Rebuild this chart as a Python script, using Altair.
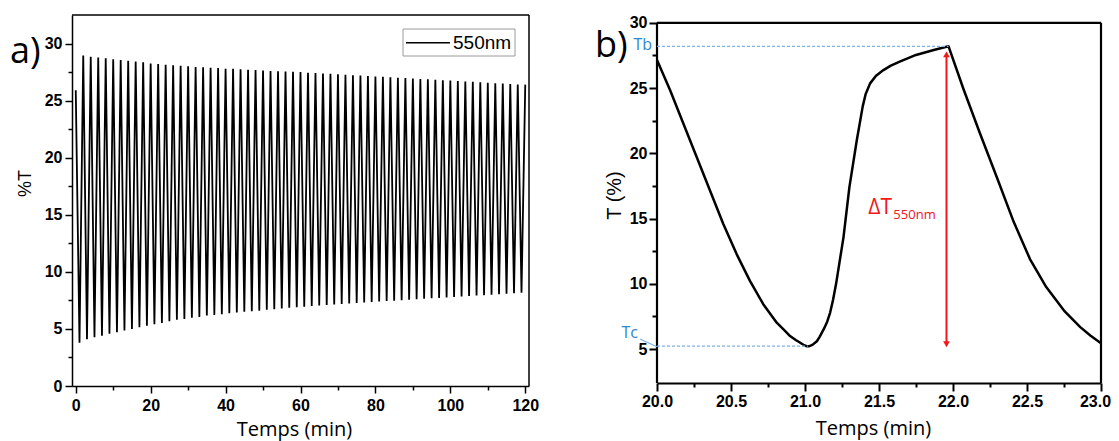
import altair as alt
import pandas as pd

# ---------------- Panel a data ----------------
a_series = "550nm"
a_start_time = 0.0
a_start_value = 25.9
a_trough_times = list(range(1, 120, 2))
a_trough_values = [3.8, 4.1, 4.27, 4.4, 4.57, 4.7, 4.86, 5.0, 5.15, 5.27,
                   5.4, 5.53, 5.67, 5.8, 5.88, 5.97, 6.05, 6.17, 6.23, 6.29,
                   6.38, 6.44, 6.5, 6.55, 6.6, 6.67, 6.73, 6.79, 6.85, 6.9,
                   6.95, 7.0, 7.05, 7.1, 7.14, 7.18, 7.22, 7.27, 7.31, 7.35,
                   7.4, 7.44, 7.48, 7.52, 7.56, 7.6, 7.64, 7.68, 7.72, 7.76,
                   7.8, 7.84, 7.88, 7.92, 7.96, 8.0, 8.04, 8.08, 8.12, 8.16]
a_peak_times = list(range(2, 121, 2))
a_peak_values = [28.95, 28.85, 28.78, 28.7, 28.62, 28.55, 28.5, 28.42, 28.35, 28.25,
                 28.2, 28.15, 28.1, 28.05, 28.0, 27.95, 27.92, 27.88, 27.85, 27.8,
                 27.78, 27.74, 27.7, 27.68, 27.64, 27.6, 27.58, 27.55, 27.52, 27.5,
                 27.45, 27.42, 27.38, 27.35, 27.3, 27.27, 27.23, 27.2, 27.15, 27.12,
                 27.08, 27.05, 27.0, 26.98, 26.94, 26.9, 26.86, 26.82, 26.78, 26.75,
                 26.72, 26.68, 26.65, 26.6, 26.57, 26.53, 26.5, 26.46, 26.42, 26.4]
a_xticks = [0, 10, 20, 30, 40, 50, 60, 70, 80, 90, 100, 110, 120]
a_yticks = [0, 2.5, 5, 7.5, 10, 12.5, 15, 17.5, 20, 22.5, 25, 27.5, 30]

# ---------------- Panel b data ----------------
b_time = [20.00, 20.088, 20.178, 20.268, 20.358, 20.448, 20.538, 20.628, 20.718, 20.809,
          20.86, 20.899, 20.94, 20.965, 20.989, 21.01, 21.03, 21.05, 21.08, 21.10,
          21.13, 21.15, 21.17, 21.19, 21.21, 21.26, 21.30, 21.35, 21.39, 21.41,
          21.44, 21.48, 21.53, 21.58, 21.64, 21.75, 21.87, 21.97, 22.07, 22.18,
          22.30, 22.41, 22.52, 22.63, 22.75, 22.86, 22.93, 23.00]
b_value = [27.15, 24.85, 22.28, 19.72, 17.15, 14.59, 12.28, 10.23, 8.44, 7.02,
           6.45, 6.0, 5.68, 5.5, 5.33, 5.22, 5.22, 5.32, 5.6, 5.95,
           6.6, 7.1, 7.8, 8.8, 10.0, 13.56, 17.41, 21.0, 23.6, 24.55,
           25.36, 25.95, 26.38, 26.72, 27.03, 27.54, 27.92, 28.2, 24.95, 21.6,
           18.05, 14.75, 11.9, 9.75, 7.95, 6.68, 6.02, 5.45]
b_tb = 28.2
b_tc = 5.22
b_tb_end = 21.97
b_tc_end = 21.02
b_arrow_t = 21.956
b_arrow_top = 27.8
b_arrow_bottom = 5.15
b_xticks = [20.0, 20.25, 20.5, 20.75, 21.0, 21.25, 21.5, 21.75, 22.0, 22.25, 22.5, 22.75, 23.0]
b_yticks = [5, 7.5, 10, 12.5, 15, 17.5, 20, 22.5, 25, 27.5, 30]

# ---------------- tables ----------------
rows = [(a_start_time, a_start_value)]
rows += list(zip(a_trough_times, a_trough_values))
rows += list(zip(a_peak_times, a_peak_values))
a_df = pd.DataFrame(rows, columns=["t", "v"]).sort_values("t")

b_df = pd.DataFrame({"t": b_time, "v": b_value})

LBL_FONT = "Liberation Sans"
TXT_FONT = "Open Sans"
BLUE = "#2F86D1"
DASH_BLUE = "#7FB2E5"
RED = "#F01818"

# ---------------- Panel a ----------------
xa_scale = alt.Scale(domain=[-1, 121], nice=False, zero=False)
ya_scale = alt.Scale(domain=[0, 32.5], nice=False, zero=False)

xa_axis = alt.Axis(
    values=a_xticks,
    labelExpr="datum.value % 20 === 0 ? datum.label : ''",
    tickSize={"condition": {"test": "datum.value % 20 !== 0", "value": 4}, "value": 7},
    title="Temps (min)", titleX=222, titleY=43, titleAlign="center", titleBaseline="middle",
    titleFont=TXT_FONT, titleFontSize=20, titleFontWeight="normal", titleColor="black",
    labelFont=LBL_FONT, labelFontWeight="bold", labelFontSize=16, labelColor="black",
    labelPadding=4, labelOverlap=False, labelFlush=False,
    domainColor="black", domainWidth=1.5, tickColor="black", tickWidth=1.5, grid=False)
ya_axis = alt.Axis(
    values=a_yticks,
    labelExpr="datum.value % 5 === 0 ? datum.label : ''",
    tickSize={"condition": {"test": "datum.value % 5 !== 0", "value": 4}, "value": 7},
    title="%T", titleX=-47, titleY=168, titleAlign="center", titleBaseline="middle",
    titleFont=LBL_FONT, titleFontSize=18, titleFontWeight="normal", titleColor="black",
    labelFont=LBL_FONT, labelFontWeight="bold", labelFontSize=16, labelColor="black",
    labelPadding=3, labelOverlap=False, labelFlush=False,
    domainColor="black", domainWidth=1.5, tickColor="black", tickWidth=1.5, grid=False)


def ax(field):
    return alt.X(field, scale=xa_scale, axis=xa_axis)


def ay(field):
    return alt.Y(field, scale=ya_scale, axis=ya_axis)


a_line = alt.Chart(a_df).mark_line(color="black", strokeWidth=1.8, interpolate="linear").encode(
    x=ax("t:Q"), y=ay("v:Q"))

a_frame = alt.Chart(pd.DataFrame({
    "t": [-1, 121], "t2": [121, 121], "v": [32.5, 0], "v2": [32.5, 32.5]})).mark_rule(
    color="black", strokeWidth=1.5).encode(x=ax("t:Q"), x2="t2:Q", y=ay("v:Q"), y2="v2:Q")

# legend box (drawn in pixels of the plot area)
leg_box = alt.Chart(pd.DataFrame({"k": [0]})).mark_rect(
    fill="white", stroke="#9a9a9a", strokeWidth=1).encode(
    x=alt.value(331), x2=alt.value(443), y=alt.value(14), y2=alt.value(41))
leg_line = alt.Chart(pd.DataFrame({"k": [0]})).mark_rule(color="black", strokeWidth=1.5).encode(
    x=alt.value(334), x2=alt.value(378), y=alt.value(27.7))
leg_text = alt.Chart(pd.DataFrame({"txt": [a_series]})).mark_text(
    font=LBL_FONT, fontSize=19, align="left", baseline="middle", color="black").encode(
    x=alt.value(381), y=alt.value(28), text="txt:N")

a_label = alt.Chart(pd.DataFrame({"txt": ["a)"]})).mark_text(
    font=TXT_FONT, fontSize=36, align="left", baseline="alphabetic", color="black").encode(
    x=alt.value(-62), y=alt.value(48), text="txt:N")

panel_a = alt.layer(a_line, a_frame, leg_box, leg_line, leg_text, a_label).properties(
    width=457, height=371)

# ---------------- Panel b ----------------
xb_scale = alt.Scale(domain=[20, 23], nice=False, zero=False)
yb_scale = alt.Scale(domain=[2.4, 30.6], nice=False, zero=False)
minor_b = "abs(datum.value * 2 - round(datum.value * 2)) > 0.01"

xb_axis = alt.Axis(
    values=b_xticks, format=".1f",
    labelExpr="abs(datum.value * 2 - round(datum.value * 2)) > 0.01 ? '' : datum.label",
    tickSize={"condition": {"test": minor_b, "value": 4}, "value": 8},
    labelOffset={"condition": {"test": "datum.value > 22.9", "value": -6}, "value": 0},
    title="Temps (min)", titleX=216, titleY=45, titleAlign="center", titleBaseline="middle",
    titleFont=TXT_FONT, titleFontSize=20, titleFontWeight="normal", titleColor="black",
    labelFont=LBL_FONT, labelFontWeight="bold", labelFontSize=16, labelColor="black",
    labelPadding=2, labelOverlap=False, labelFlush=False,
    domainColor="black", domainWidth=2.2, tickColor="black", tickWidth=2, grid=False)
yb_axis = alt.Axis(
    values=b_yticks,
    labelExpr="datum.value % 5 === 0 ? datum.label : ''",
    tickSize={"condition": {"test": "datum.value % 5 !== 0", "value": 5}, "value": 8},
    title="T (%)", titleX=-43, titleY=180, titleAlign="center", titleBaseline="middle",
    titleFont=LBL_FONT, titleFontSize=20, titleFontWeight="normal", titleColor="black",
    labelFont=LBL_FONT, labelFontWeight="bold", labelFontSize=16, labelColor="black",
    labelPadding=2, labelOverlap=False, labelFlush=False,
    domain=False, tickColor="black", tickWidth=2, grid=False)


def bx(field):
    return alt.X(field, scale=xb_scale, axis=xb_axis)


def by(field):
    return alt.Y(field, scale=yb_scale, axis=yb_axis)


b_line = alt.Chart(b_df).mark_line(color="black", strokeWidth=2.5, interpolate="linear",
                                   strokeJoin="round").encode(x=bx("t:Q"), y=by("v:Q"))

b_frame = alt.Chart(pd.DataFrame({
    "t": [20, 20, 23], "t2": [23, 20, 23], "v": [30, 2.4, 2.4], "v2": [30, 30, 30]})).mark_rule(
    color="black", strokeWidth=2.2).encode(x=bx("t:Q"), x2="t2:Q", y=by("v:Q"), y2="v2:Q")

b_dash = alt.Chart(pd.DataFrame({
    "t": [20, 20], "t2": [b_tb_end, b_tc_end], "v": [b_tb, b_tc]})).mark_rule(
    color=DASH_BLUE, strokeWidth=1.2, strokeDash=[3, 2]).encode(x=bx("t:Q"), x2="t2:Q", y=by("v:Q"))

b_leader = alt.Chart(pd.DataFrame({
    "t": [19.885], "t2": [20.0], "v": [5.77], "v2": [5.18]})).mark_rule(
    color=DASH_BLUE, strokeWidth=1.2).encode(x=bx("t:Q"), x2="t2:Q", y=by("v:Q"), y2="v2:Q")

b_arrow = alt.Chart(pd.DataFrame({
    "t": [b_arrow_t], "v": [b_arrow_top - 0.3], "v2": [b_arrow_bottom + 0.3]})).mark_rule(
    color=RED, strokeWidth=2).encode(x=bx("t:Q"), y=by("v:Q"), y2="v2:Q")
b_head_up = alt.Chart(pd.DataFrame({"t": [b_arrow_t], "v": [b_arrow_top - 0.22]})).mark_point(
    shape="triangle-up", filled=True, color=RED, size=45, opacity=1).encode(x=bx("t:Q"), y=by("v:Q"))
b_head_dn = alt.Chart(pd.DataFrame({"t": [b_arrow_t], "v": [b_arrow_bottom + 0.22]})).mark_point(
    shape="triangle-down", filled=True, color=RED, size=45, opacity=1).encode(x=bx("t:Q"), y=by("v:Q"))

b_tb_text = alt.Chart(pd.DataFrame({"t": [20], "v": [27.92], "txt": ["Tb"]})).mark_text(
    font=TXT_FONT, fontSize=16, align="right", baseline="alphabetic", color=BLUE, dx=-5).encode(
    x=bx("t:Q"), y=by("v:Q"), text="txt:N")
b_tc_text = alt.Chart(pd.DataFrame({"t": [20], "v": [5.85], "txt": ["Tc"]})).mark_text(
    font=TXT_FONT, fontSize=16, align="right", baseline="alphabetic", color=BLUE, dx=-19).encode(
    x=bx("t:Q"), y=by("v:Q"), text="txt:N")

b_delta = alt.Chart(pd.DataFrame({"t": [21.428], "v": [15.36], "txt": ["ΔT"]})).mark_text(
    font=TXT_FONT, fontSize=21, align="left", baseline="alphabetic", color=RED).encode(
    x=bx("t:Q"), y=by("v:Q"), text="txt:N")
b_sub = alt.Chart(pd.DataFrame({"t": [21.597], "v": [14.98], "txt": ["550nm"]})).mark_text(
    font=TXT_FONT, fontSize=13, align="left", baseline="alphabetic", color=RED).encode(
    x=bx("t:Q"), y=by("v:Q"), text="txt:N")

b_label = alt.Chart(pd.DataFrame({"txt": ["b)"]})).mark_text(
    font=TXT_FONT, fontSize=36, align="left", baseline="alphabetic", color="black").encode(
    x=alt.value(-62), y=alt.value(42), text="txt:N")

panel_b = alt.layer(b_line, b_frame, b_dash, b_leader, b_arrow, b_head_up, b_head_dn,
                    b_tb_text, b_tc_text, b_delta, b_sub, b_label).properties(width=444, height=368)

chart = alt.hconcat(panel_a, panel_b, spacing=128, bounds="flush").properties(
    padding={"left": 2, "top": 6, "right": 0, "bottom": 2},
    background="white",
).configure_view(stroke=None)

chart.save("out.html", embed_options={"renderer": "svg", "actions": False})
